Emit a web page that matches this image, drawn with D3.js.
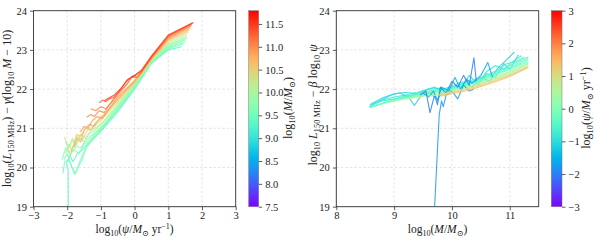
<!DOCTYPE html>
<html><head><meta charset="utf-8">
<script src="https://cdn.jsdelivr.net/npm/d3@7"></script>
<style>
body{margin:0;background:#fff}
text{font-family:"Liberation Serif","DejaVu Serif",serif;fill:#222;white-space:pre}
</style>
</head><body><div id="chart"></div>
<script>
// ---- data ----
// left panel: one track per mass bin, coloured by log10(M/Msun)
const leftMass = [9.3, 9.5, 9.6, 9.7, 9.8, 9.9, 10.1, 10.3, 10.6, 10.8, 10.9, 11.0, 11.1, 11.3, 11.5];
const leftTracks = [
  [[-1.97,19.0],[-1.97,19.95],[-2.02,20.1],[-1.93,20.3],[-1.82,20.15],[-1.7,20.35],[-1.55,20.45],[-1.4,20.6],[-1.2,20.75],[-1.0,20.92],[-0.5,21.42],[0,22.0],[0.5,22.66],[1.0,23.0],[1.4,23.08]],
  [[-2.12,19.85],[-2.08,20.15],[-1.95,20.2],[-1.85,20.0],[-1.75,19.85],[-1.65,20.1],[-1.55,20.3],[-1.4,20.55],[-1.2,20.8],[-1.0,20.97],[-0.5,21.47],[0,22.02],[0.5,22.67],[1.0,23.03],[1.45,23.15]],
  [[-2.1,20.2],[-2.0,20.35],[-1.9,20.1],[-1.78,19.82],[-1.68,20.0],[-1.55,20.2],[-1.45,20.5],[-1.3,20.65],[-1.1,20.85],[-0.9,21.05],[-0.5,21.5],[0,22.04],[0.5,22.68],[1.0,23.06],[1.5,23.2]],
  [[-2.15,20.2],[-2.05,20.5],[-1.92,20.35],[-1.8,20.45],[-1.65,20.35],[-1.5,20.6],[-1.35,20.7],[-1.2,20.85],[-1.0,21.0],[-0.5,21.52],[0,22.06],[0.5,22.69],[1.0,23.08],[1.5,23.25]],
  [[-2.05,20.35],[-1.95,20.6],[-1.85,20.4],[-1.72,20.55],[-1.6,20.5],[-1.45,20.7],[-1.3,20.8],[-1.1,20.95],[-0.9,21.1],[-0.5,21.55],[0,22.08],[0.5,22.7],[1.0,23.1],[1.55,23.3]],
  [[-1.95,20.5],[-1.85,20.7],[-1.75,20.55],[-1.62,20.75],[-1.5,20.65],[-1.35,20.85],[-1.2,20.95],[-1.0,21.08],[-0.5,21.58],[0,22.1],[0.5,22.71],[1.0,23.13],[1.55,23.33]],
  [[-2.05,20.65],[-1.95,20.5],[-1.85,20.75],[-1.75,20.6],[-1.6,20.85],[-1.45,20.75],[-1.3,20.95],[-1.1,21.05],[-0.9,21.2],[-0.5,21.62],[0,22.12],[0.5,22.72],[1.0,23.16],[1.55,23.38]],
  [[-2.08,20.78],[-2.0,20.55],[-1.9,20.3],[-1.8,20.6],[-1.7,20.8],[-1.55,20.7],[-1.4,20.95],[-1.2,21.05],[-1.0,21.2],[-0.5,21.67],[0,22.15],[0.5,22.74],[1.0,23.2],[1.6,23.45]],
  [[-1.9,20.4],[-1.8,20.6],[-1.72,20.85],[-1.6,20.8],[-1.45,21.0],[-1.3,20.95],[-1.15,21.15],[-1.0,21.25],[-0.5,21.72],[0,22.18],[0.5,22.76],[1.0,23.24],[1.62,23.5]],
  [[-1.8,20.5],[-1.7,20.75],[-1.6,20.65],[-1.5,20.95],[-1.35,21.1],[-1.2,21.05],[-1.05,21.25],[-0.9,21.35],[-0.5,21.75],[0,22.2],[0.5,22.78],[1.0,23.27],[1.65,23.55]],
  [[-1.62,20.9],[-1.5,21.05],[-1.38,21.0],[-1.25,21.2],[-1.1,21.3],[-0.95,21.25],[-0.8,21.45],[-0.5,21.8],[0,22.22],[0.5,22.79],[1.0,23.3],[1.67,23.6]],
  [[-1.42,21.28],[-1.3,21.35],[-1.2,21.3],[-1.05,21.45],[-0.9,21.4],[-0.75,21.6],[-0.5,21.85],[-0.2,22.15],[-0.05,22.35],[0.1,22.3],[0.5,22.8],[1.0,23.32],[1.68,23.62]],
  [[-1.3,21.5],[-1.15,21.45],[-1.0,21.55],[-0.85,21.5],[-0.7,21.65],[-0.5,21.9],[-0.25,22.1],[-0.1,22.3],[0.05,22.3],[0.2,22.42],[0.5,22.81],[1.0,23.34],[1.7,23.65]],
  [[-1.05,21.65],[-0.95,21.72],[-0.85,21.68],[-0.75,21.75],[-0.6,21.8],[-0.45,21.95],[-0.25,22.2],[-0.1,22.3],[0.2,22.45],[0.5,22.82],[1.0,23.36],[1.72,23.68]],
  [[-0.9,21.7],[-0.75,21.78],[-0.6,21.85],[-0.4,22.02],[-0.2,22.25],[0.0,22.34],[0.2,22.48],[0.5,22.84],[1.0,23.38],[1.74,23.7]]
];

// right panel: one track per SFR bin, coloured by log10(psi)
const rightSfr = [-1.2, -1.0, -0.9, -0.7, -0.5, -0.4, -0.2, -0.1, 0.2, 0.5, -1.8, -2.0, -1.6, 0.9, 1.2, 1.4];
const rightTracks = [
  [[8.57,21.55],[8.75,21.7],[8.95,21.85],[9.1,21.9],[9.25,21.8],[9.35,21.58],[9.45,21.8],[9.6,21.9],[9.75,21.75],[9.9,22.0],[10.05,22.05],[10.2,22.15],[10.35,22.05],[10.5,22.3],[10.65,22.2],[10.8,22.55],[10.95,22.75],[11.08,22.95]],
  [[8.6,21.62],[8.8,21.78],[9.0,21.88],[9.2,21.92],[9.4,21.88],[9.55,21.98],[9.7,22.05],[9.85,21.95],[10.0,22.1],[10.15,22.0],[10.3,22.35],[10.45,22.1],[10.6,22.4],[10.75,22.3],[10.9,22.65],[11.0,22.5],[11.15,22.88]],
  [[8.58,21.6],[8.8,21.72],[9.0,21.8],[9.2,21.85],[9.4,21.92],[9.6,22.0],[9.8,22.02],[9.95,21.95],[10.1,22.15],[10.25,22.2],[10.45,22.15],[10.6,22.45],[10.75,22.6],[10.9,22.5],[11.05,22.7],[11.2,22.85]],
  [[8.6,21.58],[8.8,21.7],[9.0,21.75],[9.2,21.82],[9.4,21.88],[9.6,21.95],[9.8,22.0],[10.0,22.05],[10.2,22.15],[10.4,22.25],[10.6,22.35],[10.8,22.5],[10.95,22.65],[11.1,22.7],[11.25,22.82]],
  [[8.58,21.52],[8.8,21.64],[9.0,21.74],[9.25,21.82],[9.5,21.9],[9.75,21.97],[10.0,22.04],[10.25,22.14],[10.5,22.27],[10.75,22.43],[11.0,22.6],[11.32,22.82]],
  [[8.6,21.55],[8.8,21.63],[9.0,21.72],[9.25,21.8],[9.5,21.88],[9.75,21.95],[10.0,22.02],[10.25,22.12],[10.5,22.25],[10.75,22.4],[11.0,22.55],[11.32,22.78]],
  [[8.65,21.58],[9.0,21.71],[9.25,21.79],[9.5,21.87],[9.75,21.94],[10.0,22.01],[10.25,22.11],[10.5,22.23],[10.75,22.38],[11.0,22.52],[11.32,22.74]],
  [[8.7,21.6],[9.0,21.7],[9.25,21.78],[9.5,21.86],[9.75,21.93],[10.0,22.0],[10.25,22.1],[10.5,22.22],[10.75,22.36],[11.0,22.5],[11.32,22.7]],
  [[8.9,21.68],[9.25,21.77],[9.5,21.84],[9.75,21.91],[10.0,21.98],[10.25,22.07],[10.5,22.18],[10.75,22.32],[11.0,22.45],[11.32,22.66]],
  [[9.2,21.75],[9.5,21.82],[9.75,21.88],[10.0,21.95],[10.25,22.04],[10.5,22.15],[10.75,22.28],[11.0,22.42],[11.32,22.64]],
  [[9.70,19.0],[9.78,21.35],[9.82,21.7],[9.85,21.55],[9.9,21.85],[10.0,21.95],[10.1,21.75],[10.2,22.1],[10.3,21.95],[10.38,22.0]],
  [[9.45,21.85],[9.55,21.95],[9.62,21.4],[9.7,21.85],[9.75,21.6],[9.8,22.05],[9.9,21.9],[10.0,22.2],[10.1,22.05],[10.2,22.35],[10.3,22.1],[10.38,22.8],[10.42,22.2]],
  [[9.5,21.9],[9.6,21.8],[9.68,21.95],[9.75,21.7],[9.82,22.05],[9.95,21.95],[10.05,22.3],[10.15,22.0],[10.25,22.25],[10.35,22.15],[10.5,22.35],[10.62,22.68],[10.7,22.3]],
  [[9.6,21.82],[9.8,21.86],[10.0,21.93],[10.25,22.02],[10.5,22.13],[10.75,22.25],[11.0,22.38],[11.32,22.6]],
  [[9.8,21.84],[10.0,21.9],[10.25,21.99],[10.5,22.1],[10.75,22.22],[11.0,22.35],[11.32,22.57]],
  [[9.82,21.82],[10.0,21.88],[10.25,21.96],[10.5,22.07],[10.75,22.19],[11.0,22.32],[11.32,22.55]]
];

const yTicks = [19, 20, 21, 22, 23, 24];
const leftXTicks = [-3, -2, -1, 0, 1, 2, 3];
const rightXTicks = [8, 9, 10, 11];
const massCbarTicks = [7.5, 8.0, 8.5, 9.0, 9.5, 10.0, 10.5, 11.0, 11.5];
const sfrCbarTicks = [-3, -2, -1, 0, 1, 2, 3];

// ---- matplotlib "rainbow" colormap ----
function rainbow(t){
  t = Math.max(0, Math.min(1, t));
  const c = v => Math.round(255*Math.max(0, Math.min(1, v)));
  return d3.rgb(c(Math.abs(2*t-0.5)), c(Math.sin(Math.PI*t)), c(Math.cos(Math.PI*t/2))).toString();
}
const minus = d => d < 0 ? '\u2212' + Math.abs(d) : String(d);

const W = 598, H = 240;
const svg = d3.select('#chart').append('svg').attr('width', W).attr('height', H);
const defs = svg.append('defs');

// text with sub/superscripts: parts are [text, flags] with i=italic, _=sub, ^=sup
function rich(sel, parts, fs){
  let cur = 0;
  parts.forEach(([t, f]) => {
    f = f || '';
    const small = f.includes('_') || f.includes('^');
    const target = f.includes('_') ? fs*0.28 : f.includes('^') ? -fs*0.34 : 0;
    const ts = sel.append('tspan').text(t)
      .attr('dy', target - cur)
      .attr('font-size', small ? fs*0.7 : fs);
    if(f.includes('i')) ts.attr('font-style', 'italic');
    cur = target;
  });
}

function panel(o){
  const x = d3.scaleLinear().domain(o.xDomain).range([o.x0, o.x1]);
  const y = d3.scaleLinear().domain([19, 24]).range([206.7, 10.7]);
  const g = svg.append('g');

  // grid
  g.append('g').selectAll('line').data(o.xTicks).join('line')
    .attr('x1', d => x(d)).attr('x2', d => x(d)).attr('y1', y(19)).attr('y2', y(24))
    .attr('stroke', '#d9d9d9').attr('stroke-width', 0.7).attr('stroke-dasharray', '2.5,2');
  g.append('g').selectAll('line').data(yTicks).join('line')
    .attr('y1', d => y(d)).attr('y2', d => y(d)).attr('x1', o.x0).attr('x2', o.x1)
    .attr('stroke', '#d9d9d9').attr('stroke-width', 0.7).attr('stroke-dasharray', '2.5,2');

  // tracks
  const clipId = 'clip' + o.id;
  defs.append('clipPath').attr('id', clipId).append('rect')
    .attr('x', o.x0).attr('y', 10.7).attr('width', o.x1 - o.x0).attr('height', 196);
  const line = d3.line().x(d => x(d[0])).y(d => y(d[1]));
  g.append('g').attr('clip-path', `url(#${clipId})`)
    .selectAll('path').data(d3.range(o.tracks.length)).join('path')
    .attr('d', i => line(o.tracks[i]))
    .attr('fill', 'none')
    .attr('stroke', i => rainbow((o.colorVals[i] - o.cDomain[0])/(o.cDomain[1] - o.cDomain[0])))
    .attr('stroke-width', 1.1).attr('stroke-opacity', 0.85)
    .attr('stroke-linejoin', 'round');

  // frame
  g.append('rect').attr('x', o.x0).attr('y', 10.7).attr('width', o.x1 - o.x0).attr('height', 196)
    .attr('fill', 'none').attr('stroke', '#333').attr('stroke-width', 0.9);

  // axes
  const xa = g.append('g').attr('transform', `translate(0,${y(19)})`)
    .call(d3.axisBottom(x).tickValues(o.xTicks).tickSize(3.5).tickPadding(1.5).tickFormat(minus));
  const ya = g.append('g').attr('transform', `translate(${o.x0},0)`)
    .call(d3.axisLeft(y).tickValues(yTicks).tickSize(3.5).tickPadding(3).tickFormat(d3.format('d')));
  [xa, ya].forEach(a => {
    a.attr('font-family', null);
    a.select('.domain').remove();
    a.selectAll('line').attr('stroke', '#333').attr('stroke-width', 0.8);
    a.selectAll('text').attr('font-size', 10.5);
  });

  // axis labels
  rich(svg.append('text').attr('x', (o.x0 + o.x1)/2).attr('y', 232.5).attr('text-anchor', 'middle'), o.xLabel, 11.5);
  rich(svg.append('text').attr('text-anchor', 'middle')
    .attr('transform', `translate(${o.yLabelX},${o.yLabelY}) rotate(-90)`), o.yLabel, 12);

  // colorbar
  const cb = o.cbar;
  const gid = 'grad' + o.id;
  const grad = defs.append('linearGradient').attr('id', gid)
    .attr('x1', 0).attr('y1', 1).attr('x2', 0).attr('y2', 0);
  d3.range(0, 1.0001, 0.02).forEach(t =>
    grad.append('stop').attr('offset', t).attr('stop-color', rainbow(t)));
  const cy = d3.scaleLinear().domain(o.cDomain).range([206.7, 10.7]);
  svg.append('rect').attr('x', cb.x).attr('y', 10.7).attr('width', cb.w).attr('height', 196)
    .attr('fill', `url(#${gid})`).attr('stroke', '#777').attr('stroke-width', 0.5);
  const ca = svg.append('g').attr('transform', `translate(${cb.x + cb.w},0)`)
    .call(d3.axisRight(cy).tickValues(o.cTicks).tickSize(3.5).tickPadding(3).tickFormat(o.cFormat));
  ca.attr('font-family', null);
  ca.select('.domain').remove();
  ca.selectAll('line').attr('stroke', '#333').attr('stroke-width', 0.8);
  ca.selectAll('text').attr('font-size', 10.5);
  rich(svg.append('text').attr('text-anchor', 'middle')
    .attr('transform', `translate(${cb.labelX},108) rotate(-90)`), o.cLabel, 12);
}

const massLabel = [['log'], ['10', '_'], ['('], ['M', 'i'], ['/'], ['M', 'i'], ['\u2299', '_'], [')']];
const sfrLabel = [['log'], ['10', '_'], ['('], ['\u03c8', 'i'], ['/'], ['M', 'i'], ['\u2299', '_'], [' yr'], ['\u22121', '^'], [')']];

panel({
  id: 'L', x0: 33.5, x1: 235.7, xDomain: [-3, 3], xTicks: leftXTicks,
  tracks: leftTracks, colorVals: leftMass, cDomain: [7.5, 11.79], cTicks: massCbarTicks,
  cFormat: d3.format('.1f'),
  xLabel: sfrLabel,
  yLabel: [['log'], ['10', '_'], ['('], ['L', 'i'], ['150 MHz', '_'], [') \u2212 '], ['\u03b3', 'i'], ['(log'], ['10', '_'], [' '], ['M', 'i'], [' \u2212 10)']],
  yLabelX: 10.5, yLabelY: 108.5,
  cbar: {x: 248.7, w: 10, labelX: 292},
  cLabel: massLabel
});

panel({
  id: 'R', x0: 336.3, x1: 538.7, xDomain: [8, 11.5], xTicks: rightXTicks,
  tracks: rightTracks, colorVals: rightSfr, cDomain: [-3, 3], cTicks: sfrCbarTicks,
  cFormat: minus,
  xLabel: massLabel,
  yLabel: [['log'], ['10', '_'], [' '], ['L', 'i'], ['150 MHz', '_'], [' \u2212 '], ['\u03b2', 'i'], [' log'], ['10', '_'], [' '], ['\u03c8', 'i']],
  yLabelX: 316.5, yLabelY: 105,
  cbar: {x: 551.3, w: 10.7, labelX: 590},
  cLabel: sfrLabel
});
</script></body></html>
